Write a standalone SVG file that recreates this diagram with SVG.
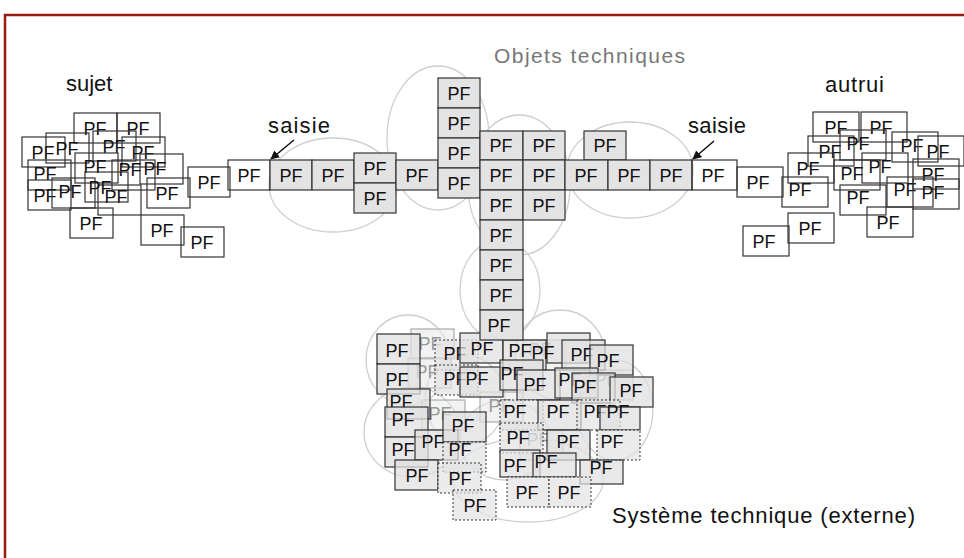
<svg xmlns="http://www.w3.org/2000/svg" width="964" height="558" viewBox="0 0 964 558">
<style>
.frame{fill:none;stroke:#9a1a10;stroke-width:2.5}
.e{fill:none;stroke:#cfcfcf;stroke-width:1.3}
.w rect{fill:none;stroke:#333;stroke-width:1.2}
.g rect{fill:#e3e3e3;stroke:#333;stroke-width:1.2}
.c rect{fill:#e0e0e0;fill-opacity:0.75;stroke:#333;stroke-width:1.2}
.d rect{fill:#e3e3e3;fill-opacity:0.7;stroke:#333;stroke-width:1;stroke-dasharray:2 2}
.l rect{fill:#e6e6e6;fill-opacity:0.5;stroke:#999;stroke-width:1}
text{font-family:"Liberation Sans",Arial,sans-serif}
.w text,.g text,.c text,.d text{font-size:18px;fill:#111;text-anchor:middle}
.l text{font-size:18px;fill:#999;text-anchor:middle}
.lab{font-size:22px;fill:#111}
.obj{font-size:21px;fill:#777}
</style>
<defs>
<marker id="ah" viewBox="0 0 10 10" refX="9" refY="5" markerWidth="6" markerHeight="6" orient="auto">
<path d="M0,0 L10,5 L0,10 z" fill="#111"/>
</marker>
</defs>
<rect class="frame" x="5" y="15" width="1000" height="600"/>

<g id="labels">
<text class="obj" x="494" y="63" textLength="191">Objets techniques</text>
<text class="lab" x="66" y="91">sujet</text>
<text class="lab" x="825" y="92" textLength="59">autrui</text>
<text class="lab" x="268" y="133" textLength="62">saisie</text>
<text class="lab" x="688" y="133" textLength="58">saisie</text>
<text class="lab" x="612" y="523" textLength="303">Système technique (externe)</text>
</g>

<g id="ellipses">
<ellipse class="e" cx="333" cy="185" rx="64" ry="47"/>
<ellipse class="e" cx="438" cy="138" rx="51" ry="72"/>
<ellipse class="e" cx="519" cy="185" rx="51" ry="70"/>
<ellipse class="e" cx="630" cy="170" rx="63" ry="48"/>
<ellipse class="e" cx="500" cy="290" rx="40" ry="50"/>
<ellipse class="e" cx="408" cy="360" rx="42" ry="45"/>
<ellipse class="e" cx="560" cy="355" rx="45" ry="45"/>
<ellipse class="e" cx="412" cy="432" rx="48" ry="45"/>
<ellipse class="e" cx="615" cy="410" rx="38" ry="50"/>
<ellipse class="e" cx="528" cy="480" rx="75" ry="42"/>
<ellipse class="e" cx="465" cy="400" rx="40" ry="45"/>
<ellipse class="e" cx="505" cy="440" rx="45" ry="40"/>
</g>

<g id="connectors">
<line x1="294" y1="140" x2="271" y2="159" stroke="#111" stroke-width="1.5" marker-end="url(#ah)"/>
<line x1="714" y1="141" x2="693" y2="159" stroke="#111" stroke-width="1.5" marker-end="url(#ah)"/>
</g>

<g id="sujet">
<g class="w"><rect x="74" y="113" width="43" height="30"/><text x="95" y="135">PF</text></g>
<g class="w"><rect x="117" y="113" width="43" height="30"/><text x="138" y="135">PF</text></g>
<g class="w"><rect x="22" y="137" width="43" height="30"/><text x="43" y="159">PF</text></g>
<g class="w"><rect x="46" y="133" width="43" height="30"/><text x="67" y="155">PF</text></g>
<g class="w"><rect x="93" y="131" width="43" height="30"/><text x="114" y="153">PF</text></g>
<g class="w"><rect x="122" y="137" width="43" height="30"/><text x="143" y="159">PF</text></g>
<g class="w"><rect x="28" y="160" width="43" height="30"/><text x="45" y="180">PF</text></g>
<g class="w"><rect x="75" y="153" width="43" height="30"/><text x="95" y="173">PF</text></g>
<g class="w"><rect x="140" y="154" width="43" height="30"/><text x="155" y="175">PF</text></g>
<g class="w"><rect x="112" y="160" width="43" height="30"/><text x="130" y="176">PF</text></g>
<g class="w"><rect x="28" y="180" width="43" height="30"/><text x="45" y="202">PF</text></g>
<g class="w"><rect x="52" y="178" width="43" height="30"/><text x="70" y="198">PF</text></g>
<g class="w"><rect x="98" y="185" width="43" height="30"/><text x="116" y="203">PF</text></g>
<g class="w"><rect x="85" y="172" width="43" height="30"/><text x="100" y="194">PF</text></g>
<g class="w"><rect x="147" y="178" width="43" height="30"/><text x="167" y="200">PF</text></g>
<g class="w"><rect x="70" y="208" width="43" height="30"/><text x="91" y="230">PF</text></g>
<g class="w"><rect x="141" y="215" width="43" height="30"/><text x="162" y="237">PF</text></g>
<g class="w"><rect x="181" y="227" width="43" height="30"/><text x="202" y="249">PF</text></g>
<g class="w"><rect x="188" y="167" width="42" height="30"/><text x="209" y="189">PF</text></g>
</g>

<g id="autrui">
<g class="w"><rect x="813" y="112" width="46" height="30"/><text x="836" y="134">PF</text></g>
<g class="w"><rect x="861" y="112" width="46" height="30"/><text x="881" y="134">PF</text></g>
<g class="w"><rect x="808" y="136" width="46" height="30"/><text x="830" y="158">PF</text></g>
<g class="w"><rect x="840" y="130" width="46" height="30"/><text x="858" y="150">PF</text></g>
<g class="w"><rect x="892" y="132" width="46" height="30"/><text x="912" y="152">PF</text></g>
<g class="w"><rect x="918" y="136" width="46" height="30"/><text x="938" y="158">PF</text></g>
<g class="w"><rect x="788" y="153" width="46" height="30"/><text x="808" y="175">PF</text></g>
<g class="w"><rect x="862" y="153" width="46" height="30"/><text x="880" y="173">PF</text></g>
<g class="w"><rect x="834" y="160" width="46" height="30"/><text x="852" y="180">PF</text></g>
<g class="w"><rect x="913" y="159" width="46" height="30"/><text x="933" y="181">PF</text></g>
<g class="w"><rect x="782" y="177" width="46" height="30"/><text x="800" y="196">PF</text></g>
<g class="w"><rect x="887" y="177" width="46" height="30"/><text x="905" y="196">PF</text></g>
<g class="w"><rect x="913" y="179" width="46" height="30"/><text x="933" y="199">PF</text></g>
<g class="w"><rect x="840" y="185" width="46" height="30"/><text x="858" y="204">PF</text></g>
<g class="w"><rect x="867" y="207" width="46" height="30"/><text x="888" y="229">PF</text></g>
<g class="w"><rect x="788" y="213" width="46" height="30"/><text x="810" y="235">PF</text></g>
<g class="w"><rect x="743" y="226" width="46" height="30"/><text x="764" y="248">PF</text></g>
<g class="w"><rect x="737" y="167" width="46" height="30"/><text x="758" y="189">PF</text></g>
</g>

<g id="main">
<g class="w"><rect x="228" y="160" width="42" height="30" fill="#fff"/><text x="249" y="182">PF</text></g>
<g class="g"><rect x="270" y="160" width="42" height="30"/><text x="291" y="182">PF</text></g>
<g class="g"><rect x="312" y="160" width="42" height="30"/><text x="333" y="182">PF</text></g>
<g class="g"><rect x="354" y="153" width="42" height="30"/><text x="375" y="175">PF</text></g>
<g class="g"><rect x="354" y="183" width="42" height="30"/><text x="375" y="205">PF</text></g>
<g class="g"><rect x="396" y="160" width="42" height="30"/><text x="417" y="182">PF</text></g>
<g class="g"><rect x="438" y="78" width="42" height="30"/><text x="459" y="100">PF</text></g>
<g class="g"><rect x="438" y="108" width="42" height="30"/><text x="459" y="130">PF</text></g>
<g class="g"><rect x="438" y="138" width="42" height="30"/><text x="459" y="160">PF</text></g>
<g class="g"><rect x="438" y="168" width="42" height="30"/><text x="459" y="190">PF</text></g>
<g class="g"><rect x="480" y="131" width="43" height="29"/><text x="501" y="152">PF</text></g>
<g class="g"><rect x="480" y="160" width="43" height="30"/><text x="501" y="182">PF</text></g>
<g class="g"><rect x="480" y="190" width="43" height="30"/><text x="501" y="212">PF</text></g>
<g class="g"><rect x="480" y="220" width="43" height="30"/><text x="501" y="242">PF</text></g>
<g class="g"><rect x="480" y="250" width="43" height="30"/><text x="501" y="272">PF</text></g>
<g class="g"><rect x="480" y="280" width="43" height="30"/><text x="501" y="302">PF</text></g>
<g class="g"><rect x="523" y="131" width="42" height="29"/><text x="544" y="152">PF</text></g>
<g class="g"><rect x="523" y="160" width="42" height="30"/><text x="544" y="182">PF</text></g>
<g class="g"><rect x="523" y="190" width="42" height="30"/><text x="544" y="212">PF</text></g>
<g class="g"><rect x="584" y="131" width="42" height="29"/><text x="605" y="152">PF</text></g>
<g class="g"><rect x="565" y="160" width="43" height="30"/><text x="586" y="182">PF</text></g>
<g class="g"><rect x="608" y="160" width="42" height="30"/><text x="629" y="182">PF</text></g>
<g class="g"><rect x="650" y="160" width="42" height="30"/><text x="671" y="182">PF</text></g>
<g class="w"><rect x="692" y="160" width="45" height="30" fill="#fff"/><text x="713" y="182">PF</text></g>
</g>

<g id="systeme">
<g class="l"><rect x="411" y="329" width="43" height="30"/><text x="430" y="350">PF</text></g>
<g class="l"><rect x="408" y="358" width="43" height="30"/><text x="427" y="378">PF</text></g>
<g class="l"><rect x="422" y="400" width="43" height="30"/><text x="440" y="420">PF</text></g>
<g class="l"><rect x="480" y="392" width="43" height="30"/><text x="500" y="412">PF</text></g>
<g class="l"><rect x="523" y="340" width="43" height="30"/><text x="540" y="356">PF</text></g>
<g class="l"><rect x="590" y="370" width="43" height="30"/><text x="606" y="386">PF</text></g>
<g class="l"><rect x="520" y="430" width="43" height="30"/><text x="538" y="446">PF</text></g>
<g class="c"><rect x="377" y="334" width="43" height="30"/><text x="397" y="357">PF</text></g>
<g class="c"><rect x="377" y="364" width="43" height="30"/><text x="397" y="386">PF</text></g>
<g class="c"><rect x="387" y="389" width="43" height="30"/><text x="401" y="408">PF</text></g>
<g class="c"><rect x="385" y="407" width="43" height="30"/><text x="403" y="426">PF</text></g>
<g class="c"><rect x="385" y="437" width="43" height="30"/><text x="403" y="456">PF</text></g>
<g class="c"><rect x="415" y="430" width="43" height="30"/><text x="433" y="448">PF</text></g>
<g class="c"><rect x="395" y="460" width="43" height="30"/><text x="417" y="482">PF</text></g>
<g class="d"><rect x="435" y="340" width="43" height="30"/><text x="455" y="360">PF</text></g>
<g class="c"><rect x="460" y="333" width="43" height="30"/><text x="482" y="355">PF</text></g>
<g class="d"><rect x="435" y="365" width="43" height="30"/><text x="455" y="385">PF</text></g>
<g class="c"><rect x="460" y="367" width="43" height="30"/><text x="477" y="385">PF</text></g>
<g class="c"><rect x="443" y="412" width="43" height="30"/><text x="463" y="432">PF</text></g>
<g class="d"><rect x="443" y="442" width="43" height="30"/><text x="460" y="456">PF</text></g>
<g class="d"><rect x="438" y="463" width="43" height="30"/><text x="460" y="485">PF</text></g>
<g class="d"><rect x="453" y="490" width="43" height="30"/><text x="475" y="512">PF</text></g>
<g class="c"><rect x="503" y="340" width="43" height="30"/><text x="520" y="357">PF</text></g>
<g class="c"><rect x="547" y="333" width="43" height="30"/><text x="543" y="359">PF</text></g>
<g class="c"><rect x="562" y="340" width="43" height="30"/><text x="582" y="361">PF</text></g>
<g class="c"><rect x="590" y="345" width="43" height="30"/><text x="608" y="367">PF</text></g>
<g class="c"><rect x="500" y="360" width="43" height="30"/><text x="512" y="380">PF</text></g>
<g class="c"><rect x="517" y="370" width="43" height="30"/><text x="535" y="391">PF</text></g>
<g class="c"><rect x="555" y="368" width="43" height="30"/><text x="570" y="386">PF</text></g>
<g class="c"><rect x="572" y="373" width="43" height="30"/><text x="585" y="393">PF</text></g>
<g class="c"><rect x="610" y="377" width="43" height="30"/><text x="631" y="397">PF</text></g>
<g class="d"><rect x="500" y="400" width="43" height="30"/><text x="515" y="418">PF</text></g>
<g class="c"><rect x="538" y="400" width="43" height="30"/><text x="558" y="418">PF</text></g>
<g class="d"><rect x="577" y="400" width="43" height="30"/><text x="595" y="418">PF</text></g>
<g class="c"><rect x="600" y="407" width="40" height="23"/><text x="618" y="418">PF</text></g>
<g class="d"><rect x="500" y="423" width="43" height="30"/><text x="518" y="444">PF</text></g>
<g class="c"><rect x="547" y="430" width="43" height="30"/><text x="568" y="448">PF</text></g>
<g class="d"><rect x="597" y="430" width="43" height="30"/><text x="612" y="448">PF</text></g>
<g class="c"><rect x="500" y="450" width="40" height="27"/><text x="515" y="472">PF</text></g>
<g class="c"><rect x="533" y="453" width="43" height="24"/><text x="546" y="468">PF</text></g>
<g class="c"><rect x="580" y="460" width="43" height="24"/><text x="601" y="474">PF</text></g>
<g class="d"><rect x="507" y="477" width="42" height="30"/><text x="527" y="499">PF</text></g>
<g class="d"><rect x="549" y="477" width="42" height="30"/><text x="569" y="499">PF</text></g>
<g class="g"><rect x="480" y="310" width="43" height="30"/><text x="499" y="332">PF</text></g>
</g>
</svg>
